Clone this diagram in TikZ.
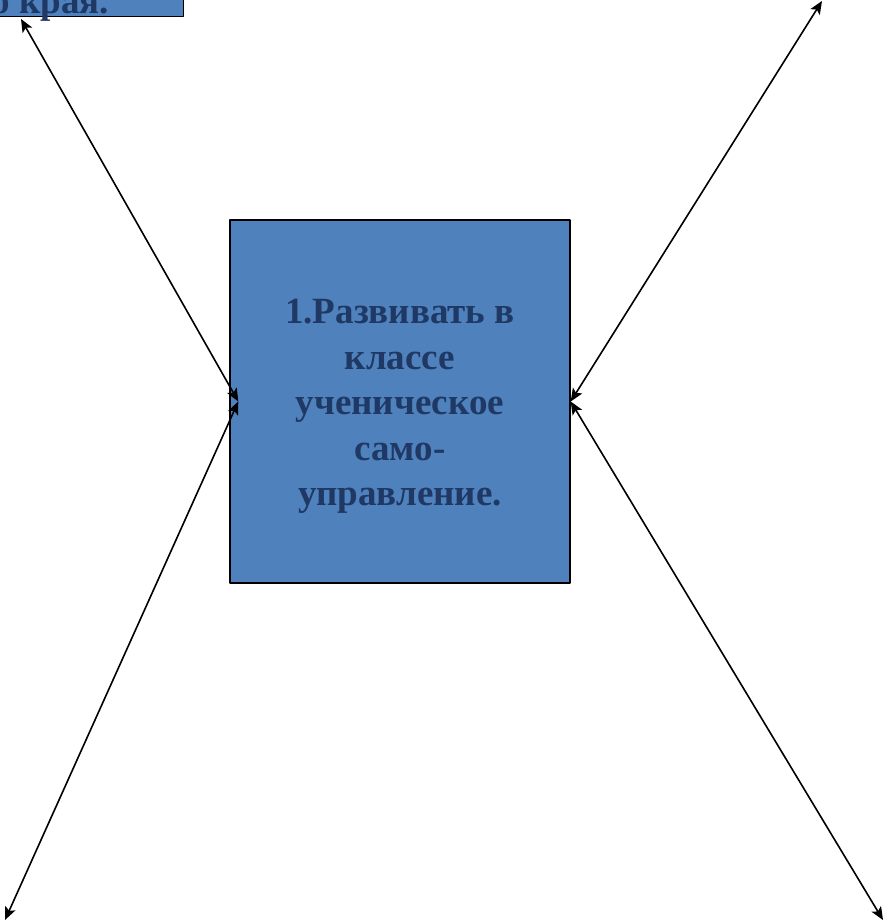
\documentclass[tikz,border=0pt]{standalone}
\usepackage{fontspec}
\setmainfont{Liberation Serif}
\usetikzlibrary{arrows.meta}
\definecolor{boxblue}{RGB}{79,129,189}
\definecolor{txtblue}{RGB}{31,56,100}
\begin{document}
\begin{tikzpicture}[x=1pt,y=-1pt,line join=round,>={Stealth[length=13pt,width=11pt,inset=3pt]},
	blk/.style={draw=black,line width=1.4pt,fill=boxblue,inner sep=0pt},
	txt/.style={text=txtblue,inner sep=0pt,font=\bfseries\fontsize{37}{45.5}\selectfont,align=center}]
	\clip (0,0) rectangle (886,923);
	\node[blk,txt,anchor=south east,minimum width=266,text height=60pt,text depth=3pt] (prev) at (184,17) {о края.};
	\node[blk,minimum width=340,minimum height=363] (goal) at (400,401.5) {};
	\node[txt] (goaltext) at ([yshift=-5pt]goal.center)
		{1.Развивать в\\классе\\ученическое\\само-\\управление.};
	\path
	([xshift=9pt]goal.west) coordinate (L)
	(21,19) coordinate (A)
	(822,1) coordinate (B)
	(5,920) coordinate (C)
	(883,920) coordinate (D);
	\foreach \s/\e in {L/A,goal.east/B,L/C,goal.east/D}
	\draw[<->,line width=1.6pt] (\s)--(\e);
\end{tikzpicture}
\end{document}
